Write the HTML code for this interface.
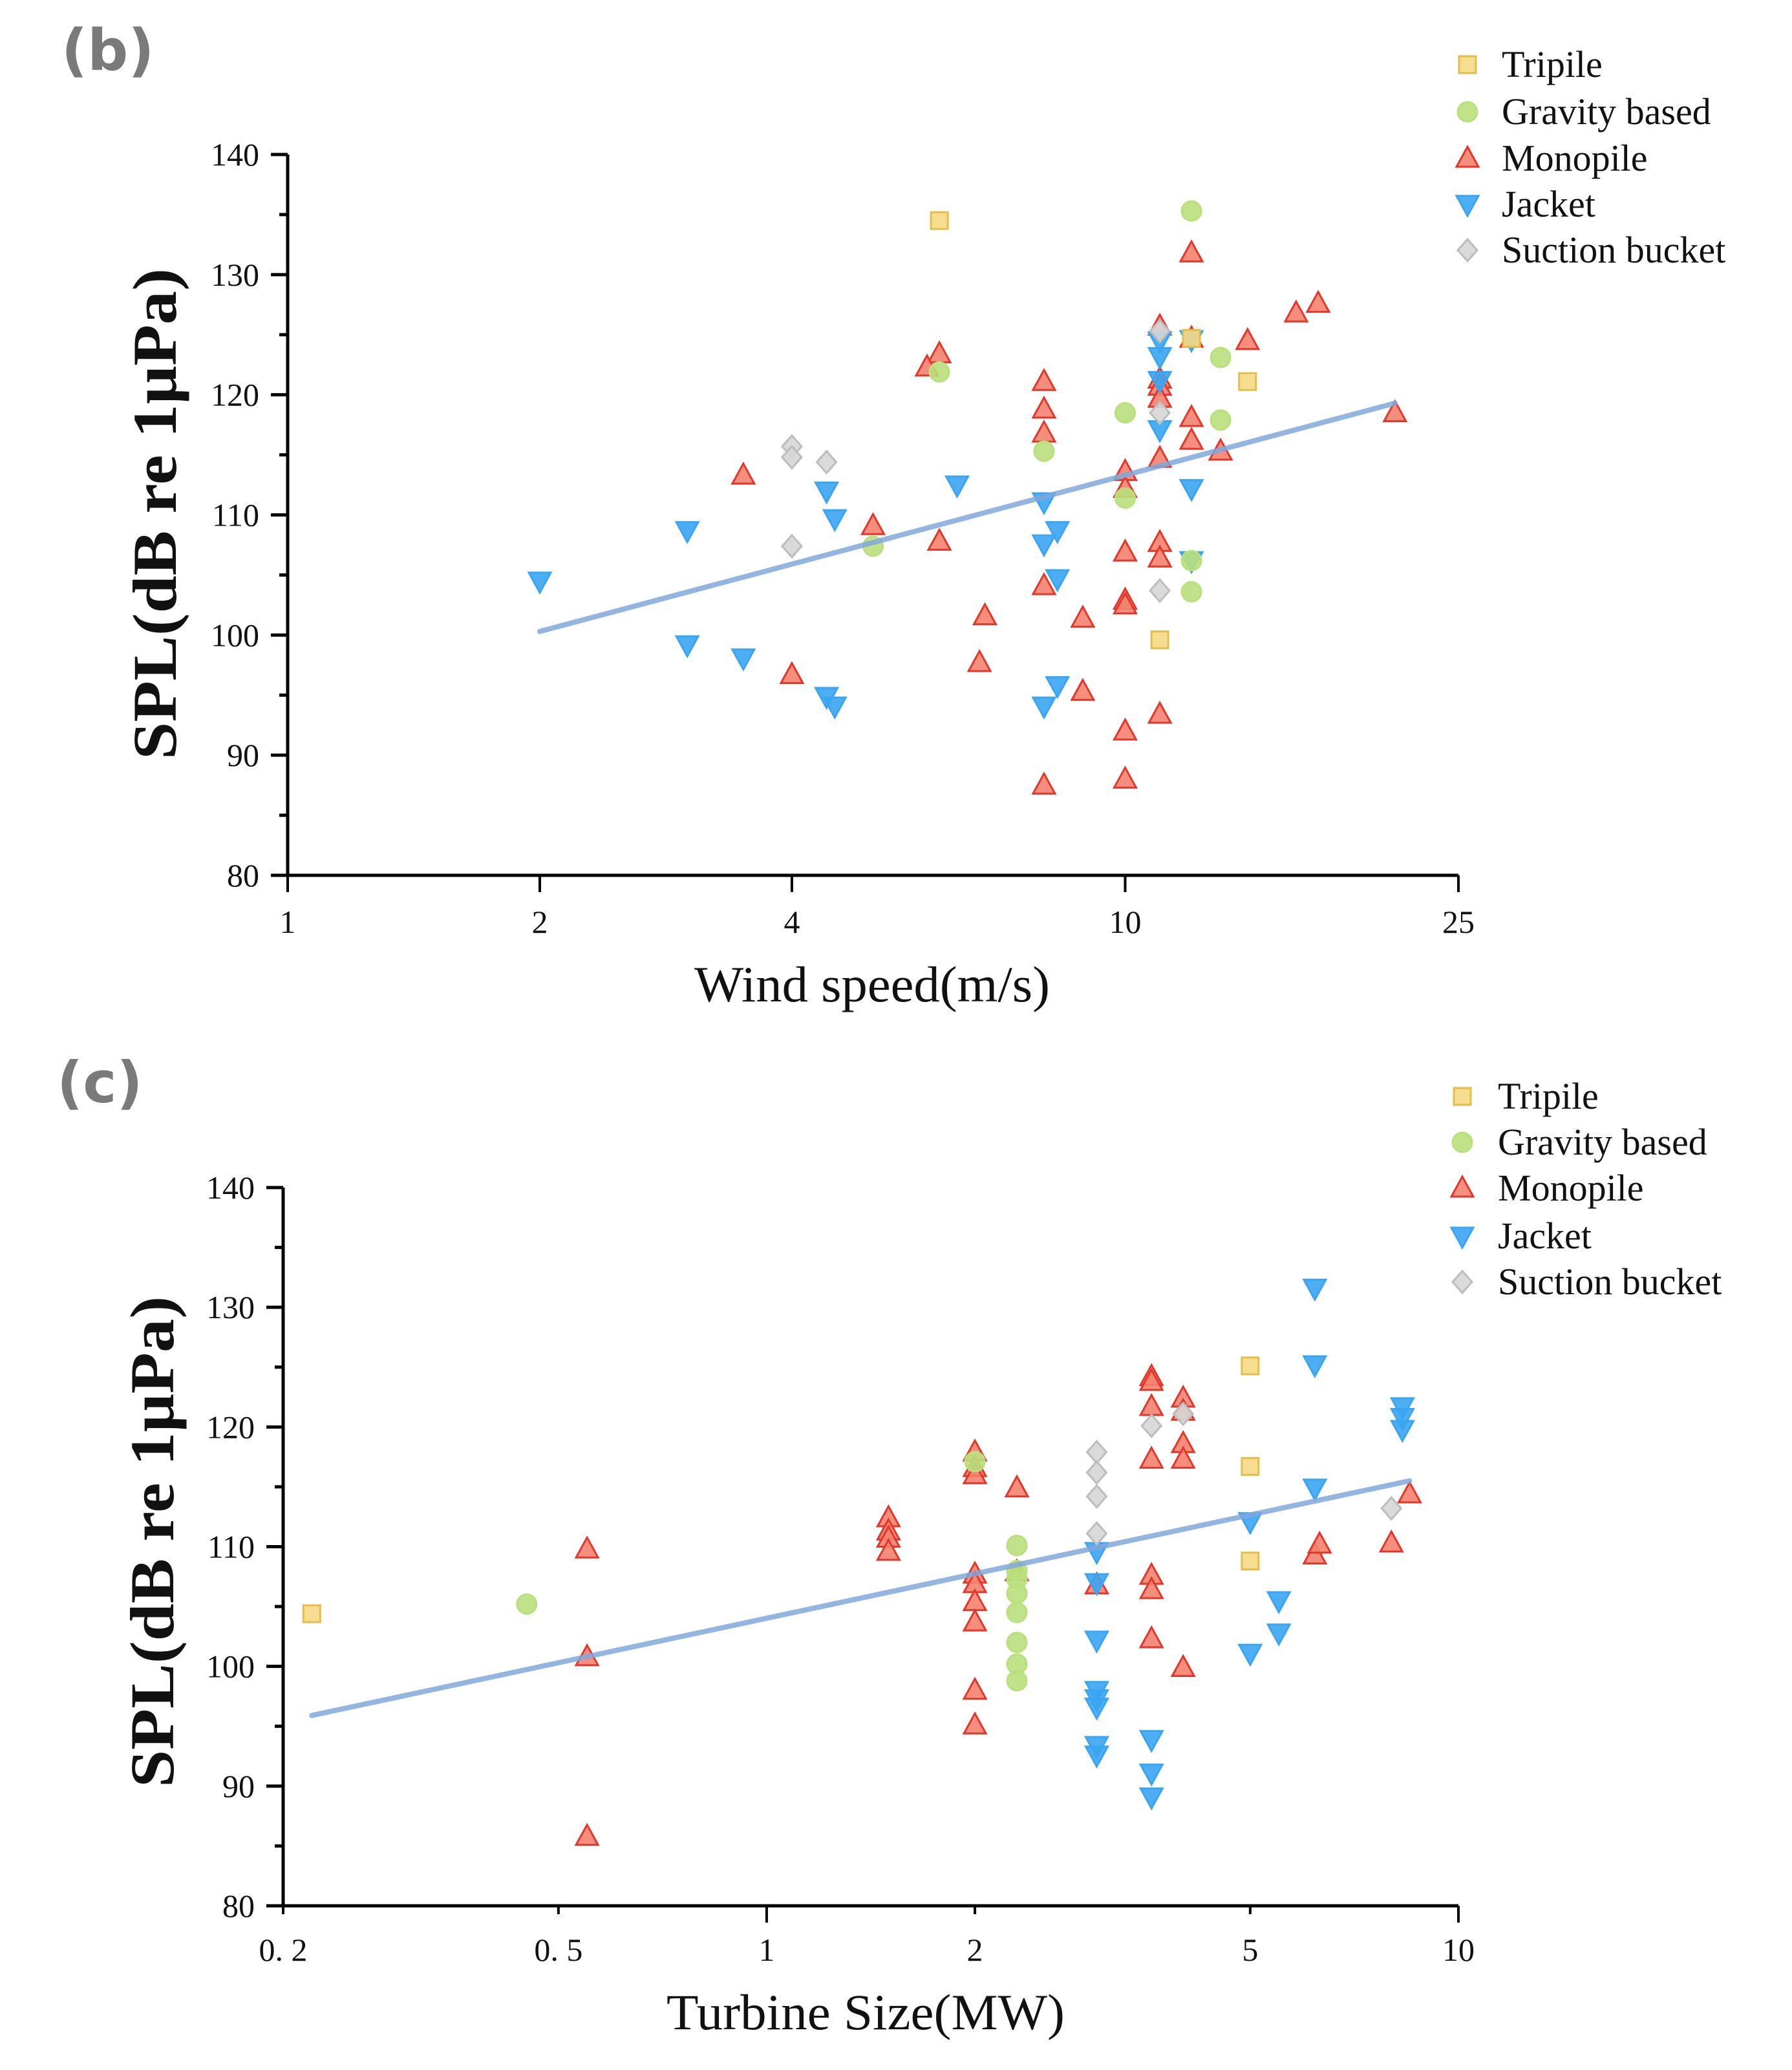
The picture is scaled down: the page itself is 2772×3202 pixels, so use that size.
<!DOCTYPE html>
<html><head><meta charset="utf-8"><style>
body{margin:0;background:#fff;}
svg{display:block;}
text{font-family:"Liberation Serif",serif;fill:#111;}
</style></head>
<body>
<svg id="fig" width="2772" height="3202" viewBox="0 0 2772 3202" xmlns="http://www.w3.org/2000/svg">
<rect width="2772" height="3202" fill="#fff"/>
</svg>
<script>
// ---------- Panel (b) data : wind speed (m/s) vs SPL ----------
const bTripileX=[6,11,12,14];
const bTripileY=[134.5,99.6,124.7,121.1];
const bGravityX=[12,6,5,8,10,10,13,13,12,12];
const bGravityY=[135.3,121.9,107.4,115.3,118.5,111.4,123.1,117.9,106.2,103.6];
const bMonoX=[3.5,4,5,6,5.8,6,6.8,6.7,8,8,8,8,8,8.9,8.9,10,10,10,10,10,10,10,11,11,11,11,11,11,11,11,12,12,12,12,13,14,16,17,21];
const bMonoY=[113.3,96.7,109.1,123.4,122.3,107.8,101.6,97.7,121.1,118.8,116.8,104.1,87.5,101.4,95.3,113.6,112.2,106.9,102.9,102.5,92.0,88.0,125.7,121.3,120.7,119.7,114.7,107.7,106.4,93.4,131.8,124.7,118.1,116.2,115.3,124.5,126.8,127.6,118.5];
const bJacketX=[2,3,3,3.5,4.4,4.5,4.4,4.5,6.3,8,8,8.3,8.3,8.3,8,11,11,11,11,12,12,12];
const bJacketY=[104.5,108.7,99.2,98.1,112.0,109.7,94.9,94.1,112.5,111.1,107.6,108.7,104.7,95.8,94.1,124.5,123.2,121.2,117.1,124.6,112.2,106.2];
const bSuctionX=[4,4,4.4,4,11,11,11];
const bSuctionY=[115.7,114.8,114.4,107.4,125.3,118.5,103.7];
const bFitX=[2,21];
const bFitY=[100.3,119.3];
const bXTicks=[1,2,4,10,25];
const bXTickLabels=["1","2","4","10","25"];

// ---------- Panel (c) data : turbine size (MW) vs SPL ----------
const cTripileX=[0.22,5,5,5];
const cTripileY=[104.4,125.1,116.7,108.8];
const cGravityX=[0.45,2,2.3,2.3,2.3,2.3,2.3,2.3,2.3,2.3];
const cGravityY=[105.2,117.1,110.1,108.0,107.3,106.1,104.5,102.0,100.2,98.8];
const cMonoX=[0.55,0.55,0.55,1.5,1.5,1.5,1.5,2,2,2,2,2,2,2,2,2,2.3,2.3,3,3.6,3.6,3.6,3.6,3.6,3.6,3.6,4,4,4,4,4,6.2,6.3,8,8.5];
const cMonoY=[109.8,100.8,85.8,112.4,111.3,110.7,109.6,117.9,116.6,116.0,107.7,106.9,105.4,103.7,98.0,95.1,114.9,107.9,106.8,124.2,123.8,121.7,117.3,107.6,106.4,102.3,122.4,121.3,118.6,117.3,99.9,109.3,110.2,110.3,114.4];
const cJacketX=[3,3,3,3,3,3,3,3,3.6,3.6,3.6,5,5,5.5,5.5,6.2,6.2,6.2,8.3,8.3,8.3];
const cJacketY=[109.6,107.0,102.2,98.0,97.3,96.6,93.4,92.6,93.9,91.1,89.1,112.1,101.1,105.5,102.8,131.6,125.2,114.9,121.7,120.8,119.8];
const cSuctionX=[3,3,3,3,3.6,4,8];
const cSuctionY=[117.9,116.2,114.2,111.1,120.1,121.1,113.2];
const cFitX=[0.22,8.5];
const cFitY=[95.9,115.5];
const cXTicks=[0.2,0.5,1,2,5,10];
const cXTickLabels=["0. 2","0. 5","1","2","5","10"];
const cXTickMajor=[false,false,true,false,false,true];

const yTicks=[80,90,100,110,120,130,140];
const yTickLabels=["80","90","100","110","120","130","140"];
const legendNames=["Tripile","Gravity based","Monopile","Jacket","Suction bucket"];

const NS="http://www.w3.org/2000/svg";
const svg=document.getElementById('fig');
function mk(tag,attrs,parent){const e=document.createElementNS(NS,tag);for(const k in attrs)e.setAttribute(k,attrs[k]);(parent||svg).appendChild(e);return e;}

const styles={
 tri:{fill:"#f6d983",stroke:"#e5bd4a"},
 grav:{fill:"#b9e07c",stroke:"#b9e07c"},
 mono:{fill:"#f4826f",stroke:"#e2372b"},
 jack:{fill:"#3aa5f2",stroke:"#3aa5f2"},
 suc:{fill:"#d6d6d6",stroke:"#bdbdbd"}
};
function marker(kind,x,y,g){
 const s=styles[kind];let e;
 if(kind==='tri'){e=mk('rect',{x:x-13,y:y-13,width:26,height:26},g);}
 else if(kind==='grav'){e=mk('circle',{cx:x,cy:y,r:15},g);}
 else if(kind==='mono'){e=mk('polygon',{points:`${x},${y-18} ${x+17},${y+13} ${x-17},${y+13}`},g);}
 else if(kind==='jack'){e=mk('polygon',{points:`${x-17},${y-13} ${x+17},${y-13} ${x},${y+18}`},g);}
 else {e=mk('polygon',{points:`${x},${y-17} ${x+15},${y} ${x},${y+17} ${x-15},${y}`},g);}
 e.setAttribute('fill',s.fill);e.setAttribute('stroke',s.stroke);e.setAttribute('stroke-width','3');e.setAttribute('fill-opacity','0.9');
 return e;
}

function panel(o){
 const g=mk('g',{});
 
 
 const lx=v=>o.x0+(o.x1-o.x0)*Math.log10(v/o.xmin)/Math.log10(o.xmax/o.xmin);
 const ly=v=>o.y80+(o.y140-o.y80)*(v-80)/60;
 const pl=mk('text',{x:o.labX,y:o.labY,'font-size':88,'font-weight':'bold',style:'font-family:"DejaVu Sans","Liberation Sans",sans-serif;fill:#7a7a7a'},g);
 pl.textContent=o.label;
 
 
 const ax=mk('path',{d:`M${o.x0},${o.y140} V${o.y80} H${o.x1}`,stroke:'#000','stroke-width':5,fill:'none'},g);
 
 
 for(let i=0;i<yTicks.length;i++){
  const y=ly(yTicks[i]);
  mk('line',{x1:o.x0-26,x2:o.x0,y1:y,y2:y,stroke:'#000','stroke-width':5},g);
  if(i<yTicks.length-1) mk('line',{x1:o.x0-13,x2:o.x0,y1:ly(yTicks[i]+5),y2:ly(yTicks[i]+5),stroke:'#000','stroke-width':5},g);
  const t=mk('text',{x:o.x0-44,y:y+17,'font-size':50,'text-anchor':'end'},g);
  t.textContent=yTickLabels[i];
  
  
 }
 for(let i=0;i<o.xt.length;i++){
  const x=lx(o.xt[i]);const len=o.major?(o.major[i]?26:13):26;
  mk('line',{x1:x,x2:x,y1:o.y80,y2:o.y80+len,stroke:'#000','stroke-width':4},g);
  const t=mk('text',{x:x,y:o.xlabY,'font-size':50,'text-anchor':'middle'},g);
  t.textContent=o.xtl[i];
  
  
 }
 const xt=mk('text',{x:(o.xtA+o.xtB)/2,y:o.xTitleY,'font-size':78,'text-anchor':'middle',textLength:o.xtB-o.xtA,lengthAdjust:'spacingAndGlyphs'},g);
 xt.textContent=o.xTitle;
 
 
 const yt=mk('text',{x:0,y:0,'font-size':96,'font-weight':'bold','text-anchor':'middle',textLength:760,lengthAdjust:'spacingAndGlyphs',transform:`translate(${o.yTitleX},${o.yTitleY}) rotate(-90)`},g);
 yt.textContent="SPL(dB re 1μPa)";
 
 
 const series=[['mono',o.mono],['jack',o.jack],['grav',o.grav],['tri',o.tri],['suc',o.suc]];
 for(const [k,d] of series){
  for(let i=0;i<d[0].length;i++){
   const m=marker(k,lx(d[0][i]),ly(d[1][i]),g);
   
   
  }
 }
 const fl=mk('line',{x1:lx(o.fit[0][0]),y1:ly(o.fit[1][0]),x2:lx(o.fit[0][1]),y2:ly(o.fit[1][1]),stroke:'#7fa8dc','stroke-width':8,'stroke-opacity':0.85,'stroke-linecap':'round'},g);
 
 
 const kinds=['tri','grav','mono','jack','suc'];
 for(let i=0;i<5;i++){
  const y=o.legY[i];
  const lg=mk('g',{},g);
  
  
  marker(kinds[i],o.legMX,y,lg);
  const t=mk('text',{x:o.legTX,y:y+19,'font-size':58},lg);
  t.textContent=legendNames[i];
 }
}

panel({name:'panel-b-wind-speed',label:'(b)',labX:95,labY:108,x0:445,x1:2256,xmin:1,xmax:25,y140:239,y80:1354,
 xt:bXTicks,xtl:bXTickLabels,xlabY:1443,xTitle:'Wind speed(m/s)',xtA:1074,xtB:1624,xTitleY:1549,yTitleX:272,yTitleY:795,
 tri:[bTripileX,bTripileY],grav:[bGravityX,bGravityY],mono:[bMonoX,bMonoY],jack:[bJacketX,bJacketY],suc:[bSuctionX,bSuctionY],fit:[bFitX,bFitY],
 legY:[100,173,245,316,387],legMX:2270,legTX:2323});
panel({name:'panel-c-turbine-size',label:'(c)',labX:88,labY:1705,x0:438,x1:2256,xmin:0.2,xmax:10,y140:1837,y80:2948,
 xt:cXTicks,xtl:cXTickLabels,major:cXTickMajor,xlabY:3033,xTitle:'Turbine Size(MW)',xtA:1031,xtB:1647,xTitleY:3139,yTitleX:268,yTitleY:2385,
 tri:[cTripileX,cTripileY],grav:[cGravityX,cGravityY],mono:[cMonoX,cMonoY],jack:[cJacketX,cJacketY],suc:[cSuctionX,cSuctionY],fit:[cFitX,cFitY],
 legY:[1696,1767,1838,1912,1983],legMX:2262,legTX:2317});
</script>
</body></html>
